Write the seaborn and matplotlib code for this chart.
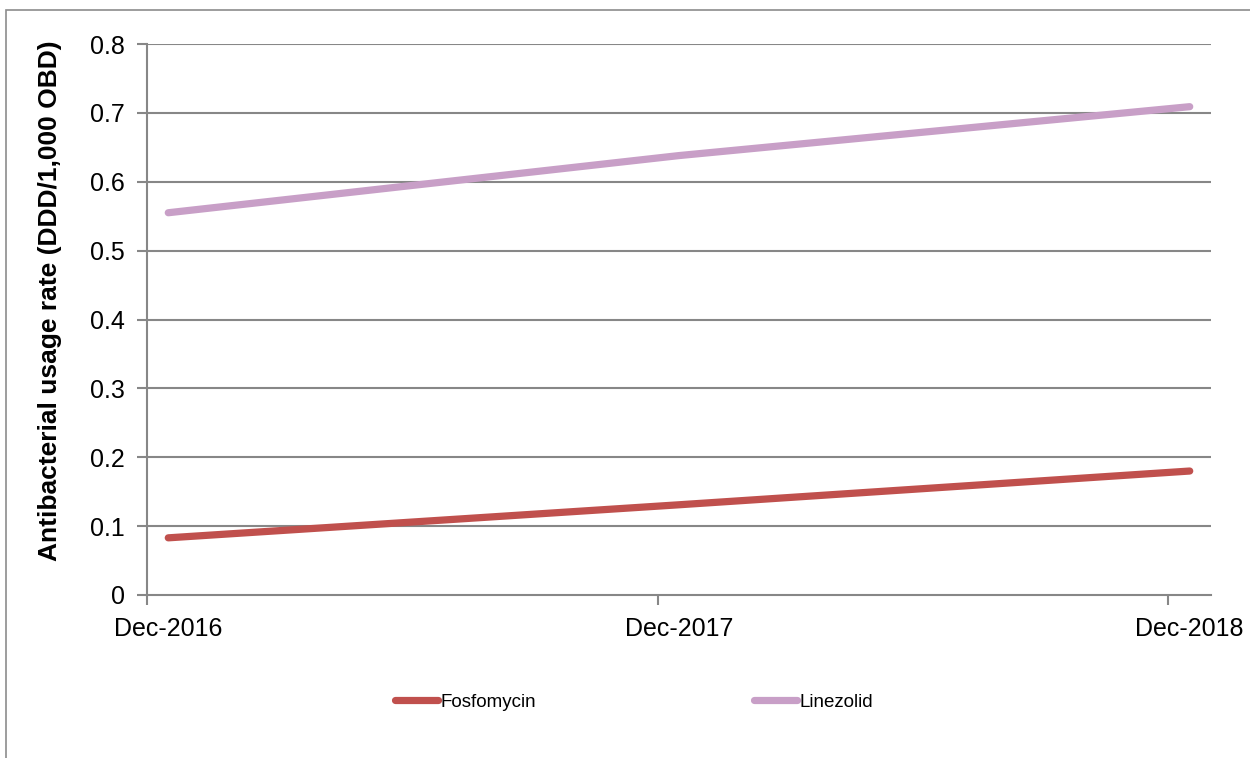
import matplotlib
matplotlib.use("Agg")
import matplotlib.pyplot as plt
from matplotlib.patches import Rectangle
import pandas as pd
import seaborn as sns

# Antibacterial usage, reported each December
periods = ["Dec-2016", "Dec-2017", "Dec-2018"]
fosfomycin = [0.083, 0.131, 0.180]
linezolid = [0.555, 0.638, 0.709]
series_names = ["Fosfomycin", "Linezolid"]
series_colors = ["#C0504D", "#C89FC7"]
y_ticks = [0, 0.1, 0.2, 0.3, 0.4, 0.5, 0.6, 0.7, 0.8]
y_label = "Antibacterial usage rate (DDD/1,000 OBD)"

# Monthly date axis running from the first to the last period
dates = pd.to_datetime(periods, format="%b-%Y")
start = dates[0]
month_idx = [(d.year - start.year) * 12 + (d.month - start.month) for d in dates]
n_months = month_idx[-1] + 1

df = pd.DataFrame({
    "month": month_idx * 2,
    "rate": fosfomycin + linezolid,
    "drug": [series_names[0]] * 3 + [series_names[1]] * 3,
})

sns.set_theme(style="white")
plt.rcParams["font.family"] = ["Liberation Sans", "DejaVu Sans"]

fig = plt.figure(figsize=(12.5, 7.58), dpi=100)
ax = fig.add_axes([147 / 1250, 1 - 595 / 758, (1211 - 147) / 1250, (595 - 44) / 758])

# Chart-area frame
fig.patches.append(Rectangle((6 / 1250, -0.1), 1.2, 1 - 10 / 758 + 0.1,
                             transform=fig.transFigure, fill=False,
                             edgecolor="#8C8C8C", linewidth=1.2, zorder=0))

sns.lineplot(data=df, x="month", y="rate", hue="drug", palette=series_colors,
             hue_order=series_names, linewidth=5.2, ax=ax, legend=False,
             solid_capstyle="round")

ax.set_xlim(-0.5, n_months - 0.5)
ax.set_ylim(0, 0.8)
ax.set_yticks(y_ticks)
ax.set_yticklabels(["0"] + [f"{v:.1f}" for v in y_ticks[1:]])
ax.set_xticks(month_idx)
ax.set_xticklabels(periods)
ax.set_xticks([m - 0.5 for m in month_idx], minor=True)

for v in y_ticks[1:]:
    ax.axhline(v, color="#878787", linewidth=1.5, zorder=0)

for side in ["top", "right"]:
    ax.spines[side].set_visible(False)
for side in ["left", "bottom"]:
    ax.spines[side].set_color("#878787")
    ax.spines[side].set_linewidth(1.5)

ax.tick_params(axis="y", which="major", direction="out", length=7, width=1.5,
               color="#878787", labelsize=18, pad=9, left=True,
               labelcolor="black")
ax.tick_params(axis="x", which="major", length=0, labelsize=18, pad=16,
               labelcolor="black")
ax.tick_params(axis="x", which="minor", direction="out", length=7, width=1.5,
               color="#878787", bottom=True)

ax.set_xlabel("")
ax.set_ylabel(y_label, fontsize=19, fontweight="bold", color="black")
ax.yaxis.set_label_coords(-0.080, 0.534)

handles = [plt.Line2D([], [], color=c, linewidth=5.2, solid_capstyle="round")
           for c in series_colors]
fig.legend(handles, series_names, loc="center",
           bbox_to_anchor=(634 / 1250, 1 - 702 / 758), ncol=2, frameon=False,
           fontsize=13.5, handlelength=2.3, handletextpad=0.15,
           columnspacing=11.6, labelcolor="black")

fig.savefig("out.png", dpi=100)
